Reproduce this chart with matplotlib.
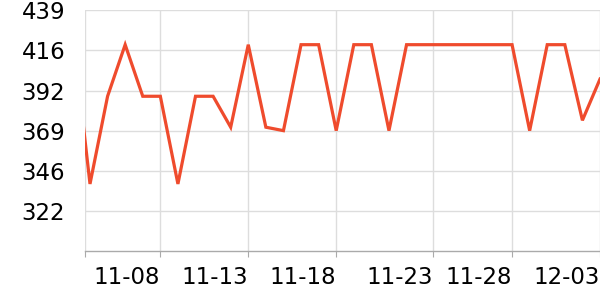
import numpy as np
import matplotlib
matplotlib.use("Agg")
import matplotlib.pyplot as plt

# daily data (day index: Nov day number, December continues at 31, 32, 33)
days = list(range(3, 34))
values = [428, 338, 389, 419, 389, 389, 338, 389, 389, 371, 419, 371, 369,
          419, 419, 369, 419, 419, 369, 419, 419, 419, 419, 419, 419, 419,
          369, 419, 419, 375, 399]

tick_pos = [3.733, 8, 13, 18, 23.5, 28, 33]
tick_labels = ["", "11-08", "11-13", "11-18", "11-23", "11-28", "12-03"]
y_ticks = [322.33, 345.67, 369, 392.33, 415.67, 439]
y_labels = ["322", "346", "369", "392", "416", "439"]

fig = plt.figure(figsize=(6, 3), dpi=100)
ax = fig.add_axes([85.3 / 600, 1 - 251 / 300, 1 - 85.3 / 600, (251 - 10.3) / 300])

ax.plot(days, values, color="#ef4b2d", linewidth=2.3, solid_joinstyle="miter", zorder=3)

ax.set_xlim(3.733, 33)
ax.set_ylim(299, 439)

ax.set_xticks(tick_pos)
ax.set_xticklabels(tick_labels, ha="right")
ax.set_yticks(y_ticks)
ax.set_yticklabels(y_labels)

ax.grid(True, color="#dddddd", linewidth=1)
ax.set_axisbelow(True)

for s in ["top", "right", "left"]:
    ax.spines[s].set_visible(False)
ax.spines["bottom"].set_color("#aaaaaa")
ax.spines["bottom"].set_linewidth(1)

ax.tick_params(axis="x", length=4, color="#aaaaaa", labelsize=16.5, pad=7, labelcolor="black")
ax.tick_params(axis="y", length=0, labelsize=16.5, pad=14.4, labelcolor="black")

fig.savefig("out.png", dpi=100)
